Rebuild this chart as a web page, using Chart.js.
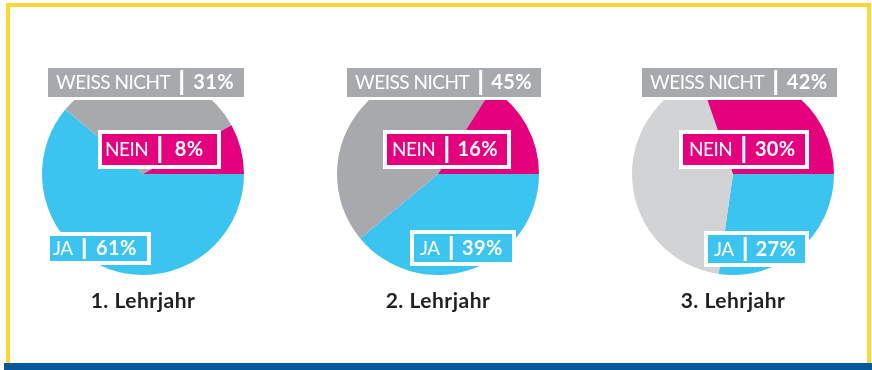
<!DOCTYPE html>
<html>
<head>
<meta charset="utf-8">
<script src="https://cdn.jsdelivr.net/npm/chart.js@4/dist/chart.umd.min.js"></script>
<style>
  html,body{margin:0;padding:0;background:#fff;width:872px;height:370px;overflow:hidden;}
  #frame{position:absolute;left:6px;top:3px;width:865px;height:364px;border:4px solid #FBD733;box-sizing:border-box;}
  #bar{position:absolute;left:4px;top:363px;width:868px;height:7px;background:#04599A;}
  canvas{position:absolute;top:0;}
</style>
</head>
<body>
<div id="frame"></div>
<div id="bar"></div>
<canvas id="c0" width="290" height="330"></canvas>
<canvas id="c1" width="290" height="330"></canvas>
<canvas id="c2" width="290" height="330"></canvas>
<script>
// ---- data ----
const categories = ['JA', 'WEISS NICHT', 'NEIN'];
const years = ['1. Lehrjahr', '2. Lehrjahr', '3. Lehrjahr'];
const ja = [61, 39, 27];
const weissNicht = [31, 45, 42];
const nein = [8, 16, 30];

// ---- styles / layout ----
const CYAN = '#3BC4EF', MAGENTA = '#E5007E', GRAY = '#A7A9AC', LIGHTGRAY = '#D1D3D4';
const sliceColors = [
  [CYAN, GRAY, MAGENTA],
  [CYAN, GRAY, MAGENTA],
  [CYAN, LIGHTGRAY, MAGENTA]
];
const boxColors = [CYAN, GRAY, MAGENTA];
const centersX = [143, 438, 733];
const CY = 174, R = 101, CW = 290, CH = 330;
// label box layout relative to pie centre: [dx, dy, width, height, textPad, border] for [JA, WEISS, NEIN]
const boxLayout = [
  [[-93, 62, 97, 25, 3, 4], [-95, -106, 196, 29, 8, 3], [-41, -40, 115, 31, 3, 4]],
  [[-24, 60, 98, 28, 6, 4], [-91, -106, 194, 29, 8, 3], [-51, -40, 120, 31, 5, 4]],
  [[-25, 61, 97, 28, 6, 4], [-91, -106, 195, 29, 8, 3], [-50, -40, 122, 31, 6, 4]]
];
const FONT = 'Lato, "Open Sans", sans-serif';

function labelPlugin(ci) {
  return {
    id: 'boxLabels' + ci,
    afterDraw(chart) {
      const ctx = chart.ctx;
      const arc = chart.getDatasetMeta(0).data[0];
      const cx = arc.x, cy = arc.y;
      const ds = chart.data.datasets[0].data;
      ctx.save();
      ctx.textBaseline = 'alphabetic';
      ctx.textAlign = 'left';
      categories.forEach((cat, k) => {
        const [bx, by, w, h, pad, bw] = boxLayout[ci][k];
        const x = cx + bx, y = cy + by;
        const pct = ds[k] + '%';
        ctx.fillStyle = '#ffffff';
        ctx.fillRect(x - bw, y - bw, w + 2 * bw, h + 2 * bw);
        ctx.fillStyle = boxColors[k];
        ctx.fillRect(x, y, w, h);
        const base = y + h / 2 + 6.5;
        ctx.fillStyle = '#ffffff';
        ctx.font = '400 19px ' + FONT;
        ctx.letterSpacing = '-0.5px';
        const lw = ctx.measureText(cat).width;
        ctx.fillText(cat, x + pad, base);
        const dx = x + pad + lw + 10;
        ctx.fillRect(dx, y + 2, 3, h - 4);
        ctx.font = '700 20px ' + FONT;
        ctx.letterSpacing = '0.3px';
        const pw = ctx.measureText(pct).width;
        const rest = (x + w) - (dx + 3);
        ctx.fillText(pct, dx + 3 + (rest - pw) / 2, base);
      });
      ctx.fillStyle = '#231F20';
      ctx.font = '700 21px ' + FONT;
      ctx.letterSpacing = '0.5px';
      ctx.textAlign = 'center';
      ctx.fillText(years[ci], cx, cy + 134);
      ctx.restore();
    }
  };
}

years.forEach((yr, i) => {
  const cv = document.getElementById('c' + i);
  cv.style.left = (centersX[i] - CW / 2) + 'px';
  const padL = CW / 2 - R, padT = CY - R;
  new Chart(cv, {
    type: 'pie',
    data: {
      labels: categories,
      datasets: [{
        data: [ja[i], weissNicht[i], nein[i]],
        backgroundColor: sliceColors[i],
        borderWidth: 0
      }]
    },
    options: {
      responsive: false,
      animation: false,
      devicePixelRatio: 1,
      rotation: 90,
      layout: { padding: { left: padL, right: CW - padL - 2 * R, top: padT, bottom: CH - padT - 2 * R } },
      plugins: { legend: { display: false }, tooltip: { enabled: false }, title: { display: false } }
    },
    plugins: [labelPlugin(i)]
  });
});
</script>
</body>
</html>
